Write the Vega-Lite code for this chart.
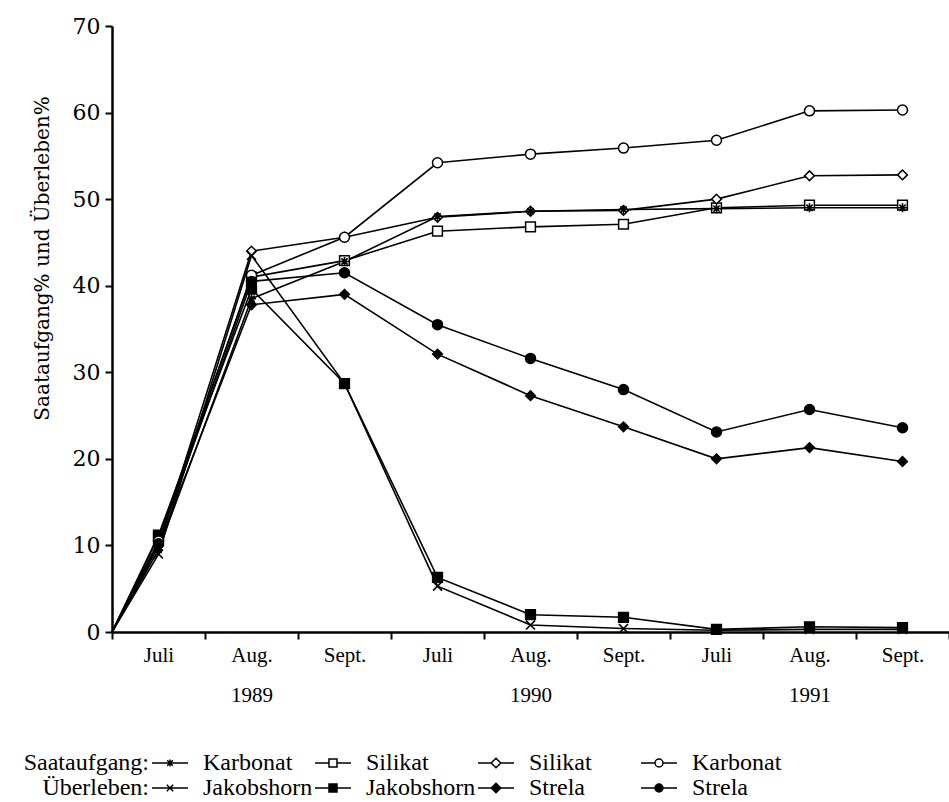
{
  "$schema": "https://vega.github.io/schema/vega-lite/v6.json",
  "width": 837,
  "height": 606,
  "autosize": {"type": "none"},
  "padding": {"left": 112, "top": 26, "right": 0, "bottom": 170},
  "background": "white",
  "config": {
    "font": "Liberation Serif",
    "view": {"stroke": null},
    "axis": {"grid": false, "domainColor": "black", "tickColor": "black", "labelColor": "black", "titleColor": "black"}
  },
  "data": {
    "values": [
      {"series": "Saataufgang Karbonat 1", "pos": 0, "value": 0},
      {"series": "Saataufgang Karbonat 1", "pos": 0.5, "value": 9.5},
      {"series": "Saataufgang Karbonat 1", "pos": 1.5, "value": 38.5},
      {"series": "Saataufgang Karbonat 1", "pos": 2.5, "value": 42.8},
      {"series": "Saataufgang Karbonat 1", "pos": 3.5, "value": 48.0},
      {"series": "Saataufgang Karbonat 1", "pos": 4.5, "value": 48.6},
      {"series": "Saataufgang Karbonat 1", "pos": 5.5, "value": 48.8},
      {"series": "Saataufgang Karbonat 1", "pos": 6.5, "value": 48.9},
      {"series": "Saataufgang Karbonat 1", "pos": 7.5, "value": 49.0},
      {"series": "Saataufgang Karbonat 1", "pos": 8.5, "value": 49.0},

      {"series": "Saataufgang Silikat 1", "pos": 0, "value": 0},
      {"series": "Saataufgang Silikat 1", "pos": 0.5, "value": 11.0},
      {"series": "Saataufgang Silikat 1", "pos": 1.5, "value": 41.0},
      {"series": "Saataufgang Silikat 1", "pos": 2.5, "value": 42.9},
      {"series": "Saataufgang Silikat 1", "pos": 3.5, "value": 46.3},
      {"series": "Saataufgang Silikat 1", "pos": 4.5, "value": 46.8},
      {"series": "Saataufgang Silikat 1", "pos": 5.5, "value": 47.1},
      {"series": "Saataufgang Silikat 1", "pos": 6.5, "value": 49.0},
      {"series": "Saataufgang Silikat 1", "pos": 7.5, "value": 49.3},
      {"series": "Saataufgang Silikat 1", "pos": 8.5, "value": 49.3},

      {"series": "Saataufgang Silikat 2", "pos": 0, "value": 0},
      {"series": "Saataufgang Silikat 2", "pos": 0.5, "value": 10.0},
      {"series": "Saataufgang Silikat 2", "pos": 1.5, "value": 44.0},
      {"series": "Saataufgang Silikat 2", "pos": 2.5, "value": 45.6},
      {"series": "Saataufgang Silikat 2", "pos": 3.5, "value": 47.9},
      {"series": "Saataufgang Silikat 2", "pos": 4.5, "value": 48.6},
      {"series": "Saataufgang Silikat 2", "pos": 5.5, "value": 48.7},
      {"series": "Saataufgang Silikat 2", "pos": 6.5, "value": 50.0},
      {"series": "Saataufgang Silikat 2", "pos": 7.5, "value": 52.7},
      {"series": "Saataufgang Silikat 2", "pos": 8.5, "value": 52.8},

      {"series": "Saataufgang Karbonat 2", "pos": 0, "value": 0},
      {"series": "Saataufgang Karbonat 2", "pos": 0.5, "value": 10.5},
      {"series": "Saataufgang Karbonat 2", "pos": 1.5, "value": 41.2},
      {"series": "Saataufgang Karbonat 2", "pos": 2.5, "value": 45.6},
      {"series": "Saataufgang Karbonat 2", "pos": 3.5, "value": 54.2},
      {"series": "Saataufgang Karbonat 2", "pos": 4.5, "value": 55.2},
      {"series": "Saataufgang Karbonat 2", "pos": 5.5, "value": 55.9},
      {"series": "Saataufgang Karbonat 2", "pos": 6.5, "value": 56.8},
      {"series": "Saataufgang Karbonat 2", "pos": 7.5, "value": 60.2},
      {"series": "Saataufgang Karbonat 2", "pos": 8.5, "value": 60.3},

      {"series": "Überleben Jakobshorn 1", "pos": 0, "value": 0},
      {"series": "Überleben Jakobshorn 1", "pos": 0.5, "value": 9.0},
      {"series": "Überleben Jakobshorn 1", "pos": 1.5, "value": 43.5},
      {"series": "Überleben Jakobshorn 1", "pos": 2.5, "value": 28.7},
      {"series": "Überleben Jakobshorn 1", "pos": 3.5, "value": 5.3},
      {"series": "Überleben Jakobshorn 1", "pos": 4.5, "value": 0.8},
      {"series": "Überleben Jakobshorn 1", "pos": 5.5, "value": 0.4},
      {"series": "Überleben Jakobshorn 1", "pos": 6.5, "value": 0.2},
      {"series": "Überleben Jakobshorn 1", "pos": 7.5, "value": 0.3},
      {"series": "Überleben Jakobshorn 1", "pos": 8.5, "value": 0.3},

      {"series": "Überleben Jakobshorn 2", "pos": 0, "value": 0},
      {"series": "Überleben Jakobshorn 2", "pos": 0.5, "value": 11.2},
      {"series": "Überleben Jakobshorn 2", "pos": 1.5, "value": 39.6},
      {"series": "Überleben Jakobshorn 2", "pos": 2.5, "value": 28.7},
      {"series": "Überleben Jakobshorn 2", "pos": 3.5, "value": 6.3},
      {"series": "Überleben Jakobshorn 2", "pos": 4.5, "value": 2.0},
      {"series": "Überleben Jakobshorn 2", "pos": 5.5, "value": 1.7},
      {"series": "Überleben Jakobshorn 2", "pos": 6.5, "value": 0.3},
      {"series": "Überleben Jakobshorn 2", "pos": 7.5, "value": 0.6},
      {"series": "Überleben Jakobshorn 2", "pos": 8.5, "value": 0.5},

      {"series": "Überleben Strela 1", "pos": 0, "value": 0},
      {"series": "Überleben Strela 1", "pos": 0.5, "value": 10.0},
      {"series": "Überleben Strela 1", "pos": 1.5, "value": 37.8},
      {"series": "Überleben Strela 1", "pos": 2.5, "value": 39.0},
      {"series": "Überleben Strela 1", "pos": 3.5, "value": 32.1},
      {"series": "Überleben Strela 1", "pos": 4.5, "value": 27.3},
      {"series": "Überleben Strela 1", "pos": 5.5, "value": 23.7},
      {"series": "Überleben Strela 1", "pos": 6.5, "value": 20.0},
      {"series": "Überleben Strela 1", "pos": 7.5, "value": 21.3},
      {"series": "Überleben Strela 1", "pos": 8.5, "value": 19.7},

      {"series": "Überleben Strela 2", "pos": 0, "value": 0},
      {"series": "Überleben Strela 2", "pos": 0.5, "value": 10.2},
      {"series": "Überleben Strela 2", "pos": 1.5, "value": 40.5},
      {"series": "Überleben Strela 2", "pos": 2.5, "value": 41.5},
      {"series": "Überleben Strela 2", "pos": 3.5, "value": 35.5},
      {"series": "Überleben Strela 2", "pos": 4.5, "value": 31.6},
      {"series": "Überleben Strela 2", "pos": 5.5, "value": 28.0},
      {"series": "Überleben Strela 2", "pos": 6.5, "value": 23.1},
      {"series": "Überleben Strela 2", "pos": 7.5, "value": 25.7},
      {"series": "Überleben Strela 2", "pos": 8.5, "value": 23.6}
    ]
  },
  "encoding": {
    "y": {
      "field": "value", "type": "quantitative",
      "scale": {"domain": [0, 70], "nice": false},
      "axis": {
        "values": [0, 10, 20, 30, 40, 50, 60, 70],
        "tickSize": 7, "tickWidth": 2, "domainWidth": 2.5,
        "labelFont": "DejaVu Serif", "labelFontSize": 22, "labelPadding": 5,
        "title": "Saataufgang% und Überleben%",
        "titleFont": "DejaVu Serif", "titleFontSize": 20, "titleFontWeight": "normal",
        "titleX": -70, "titleY": 232, "titleAngle": -90, "titleAlign": "center", "titleBaseline": "middle"
      }
    }
  },
  "layer": [
    {
      "mark": {"type": "line", "color": "black", "strokeWidth": 1.6},
      "encoding": {
        "x": {
          "field": "pos", "type": "quantitative",
          "scale": {"domain": [0, 9], "nice": false, "zero": false},
          "axis": {
            "orient": "bottom", "values": [0, 1, 2, 3, 4, 5, 6, 7, 8, 9],
            "labels": false, "ticks": true, "tickSize": 7, "tickWidth": 2, "domainWidth": 2.5,
            "title": null
          }
        },
        "detail": {"field": "series", "type": "nominal"}
      }
    },
    {
      "transform": [{"filter": "datum.pos > 0"}, {"filter": {"field": "series", "oneOf": ["Saataufgang Silikat 1", "Überleben Jakobshorn 2"]}}],
      "mark": {"type": "point", "shape": "square", "filled": true, "stroke": "black", "strokeWidth": 1.5, "opacity": 1, "size": 95},
      "encoding": {
        "x": {
          "field": "pos", "type": "quantitative",
          "axis": {
            "orient": "bottom", "values": [0.5, 1.5, 2.5, 3.5, 4.5, 5.5, 6.5, 7.5, 8.5],
            "domain": false, "ticks": false, "tickSize": 0,
            "labelFontSize": 21, "labelPadding": 12, "labelLineHeight": 40, "labelBaseline": "top",
            "labelOverlap": false, "labelFlush": false,
            "labelExpr": "[['Juli'],['Aug.','1989'],['Sept.'],['Juli'],['Aug.','1990'],['Sept.'],['Juli'],['Aug.','1991'],['Sept.']][floor(datum.value)]",
            "title": null
          }
        },
        "fill": {"condition": {"test": "datum.series === 'Saataufgang Silikat 1'", "value": "white"}, "value": "black"}
      }
    },
    {
      "transform": [{"filter": "datum.pos > 0"}, {"filter": {"field": "series", "oneOf": ["Saataufgang Silikat 2", "Überleben Strela 1"]}}],
      "mark": {"type": "point", "shape": "diamond", "filled": true, "stroke": "black", "strokeWidth": 1.5, "opacity": 1, "size": 95},
      "encoding": {
        "x": {"field": "pos", "type": "quantitative", "axis": null},
        "fill": {"condition": {"test": "datum.series === 'Saataufgang Silikat 2'", "value": "white"}, "value": "black"}
      }
    },
    {
      "transform": [{"filter": "datum.pos > 0"}, {"filter": {"field": "series", "oneOf": ["Saataufgang Karbonat 2", "Überleben Strela 2"]}}],
      "mark": {"type": "point", "shape": "circle", "filled": true, "stroke": "black", "strokeWidth": 1.5, "opacity": 1, "size": 100},
      "encoding": {
        "x": {"field": "pos", "type": "quantitative", "axis": null},
        "fill": {"condition": {"test": "datum.series === 'Saataufgang Karbonat 2'", "value": "white"}, "value": "black"}
      }
    },
    {
      "transform": [{"filter": "datum.pos > 0"}, {"filter": {"field": "series", "equal": "Saataufgang Karbonat 1"}}],
      "mark": {"type": "point", "shape": "M-1,0L1,0M0,-1L0,1M-0.7,-0.7L0.7,0.7M-0.7,0.7L0.7,-0.7", "filled": false, "stroke": "black", "strokeWidth": 1.6, "opacity": 1, "size": 80},
      "encoding": {
        "x": {"field": "pos", "type": "quantitative", "axis": null}
      }
    },
    {
      "transform": [{"filter": "datum.pos > 0"}, {"filter": {"field": "series", "equal": "Überleben Jakobshorn 1"}}],
      "mark": {"type": "point", "shape": "M-1,-1L1,1M-1,1L1,-1", "filled": false, "stroke": "black", "strokeWidth": 1.6, "opacity": 1, "size": 80},
      "encoding": {
        "x": {"field": "pos", "type": "quantitative", "axis": null}
      }
    },
    {
      "transform": [{"filter": "datum.pos < 0"}],
      "mark": {"type": "point", "stroke": "black", "strokeWidth": 1.5, "opacity": 1},
      "encoding": {
        "x": {"field": "pos", "type": "quantitative", "axis": null},
        "shape": {
          "field": "series", "type": "nominal",
          "scale": {
            "domain": ["Saataufgang Karbonat 1", "Saataufgang Silikat 1", "Saataufgang Silikat 2", "Saataufgang Karbonat 2", "Überleben Jakobshorn 1", "Überleben Jakobshorn 2", "Überleben Strela 1", "Überleben Strela 2"],
            "range": ["M-4.5,0L4.5,0M0,-0.9L0,0.9M-0.7,-0.7L0.7,0.7M-0.7,0.7L0.7,-0.7", "M-4.5,0L-1,0M1,0L4.5,0M-1,-1L1,-1L1,1L-1,1Z", "M-4.5,0L-1.2,0M1.2,0L4.5,0M0,-1.2L1.2,0L0,1.2L-1.2,0Z", "M-4.5,0L-1,0M1,0L4.5,0M1,0A1,1,0,1,1,-1,0A1,1,0,1,1,1,0Z", "M-4.5,0L4.5,0M-0.8,-0.8L0.8,0.8M-0.8,0.8L0.8,-0.8", "M-4.5,0L-1,0M1,0L4.5,0M-1,-1L1,-1L1,1L-1,1Z", "M-4.5,0L-1.2,0M1.2,0L4.5,0M0,-1.2L1.2,0L0,1.2L-1.2,0Z", "M-4.5,0L-1,0M1,0L4.5,0M1,0A1,1,0,1,1,-1,0A1,1,0,1,1,1,0Z"]
          },
          "legend": {
            "orient": "none", "legendX": -88, "legendY": 725,
            "columns": 4, "direction": "horizontal", "gridAlign": "all",
            "title": ["Saataufgang:", "Überleben:"],
            "titleOrient": "left", "titleFontSize": 24, "titleFontWeight": "normal", "titleLineHeight": 25,
            "titleAlign": "right", "titlePadding": -117, "titleColor": "black",
            "labelFontSize": 24, "labelOffset": 21, "labelColor": "black",
            "symbolSize": 64, "symbolOpacity": 1,
            "rowPadding": 1, "columnPadding": -1,
            "labelExpr": "split(datum.label, ' ')[1]"
          }
        },
        "fill": {
          "field": "series", "type": "nominal",
          "scale": {
            "domain": ["Saataufgang Karbonat 1", "Saataufgang Silikat 1", "Saataufgang Silikat 2", "Saataufgang Karbonat 2", "Überleben Jakobshorn 1", "Überleben Jakobshorn 2", "Überleben Strela 1", "Überleben Strela 2"],
            "range": ["black", "white", "white", "white", "black", "black", "black", "black"]
          },
          "legend": null
        }
      }
    }
  ],
  "resolve": {"axis": {"x": "independent"}}
}
